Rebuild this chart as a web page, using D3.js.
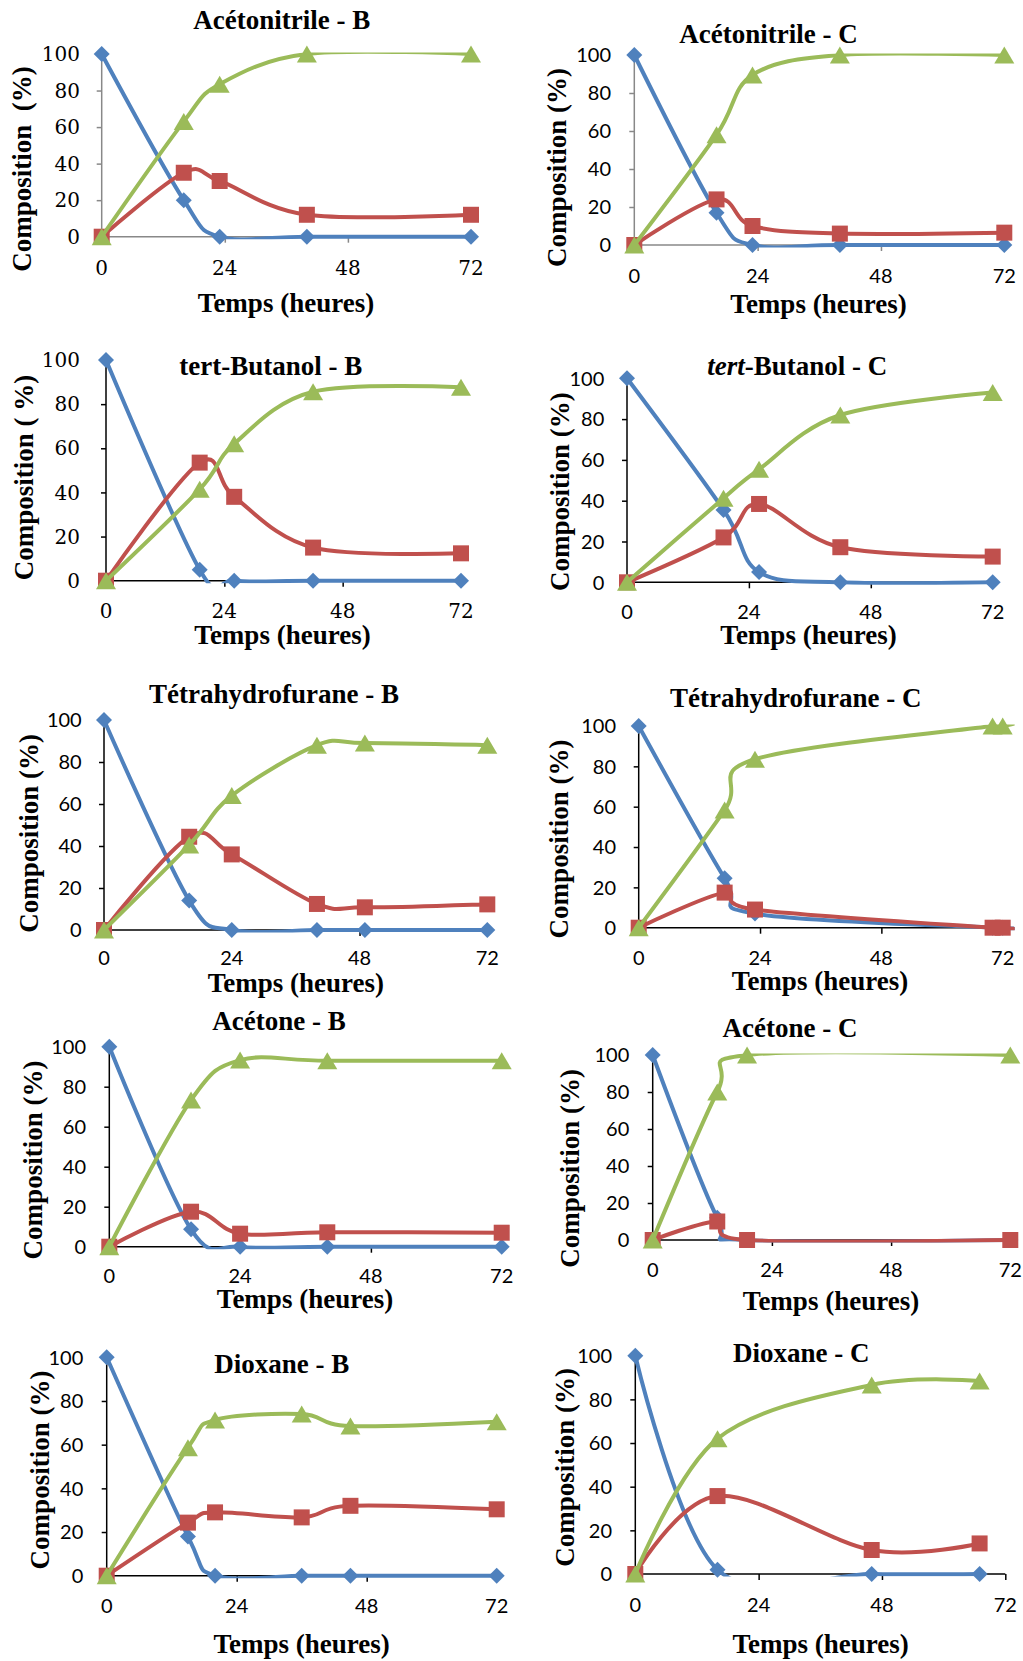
<!DOCTYPE html>
<html><head><meta charset="utf-8">
<script src="https://cdn.jsdelivr.net/npm/d3@7"></script>
<style>html,body{margin:0;padding:0;background:#fff;} svg{display:block;}</style>
</head><body>
<script>
// ---------- DATA ----------
const titles = ["Acétonitrile - B","Acétonitrile - C","tert-Butanol - B","tert-Butanol - C",
  "Tétrahydrofurane - B","Tétrahydrofurane - C","Acétone - B","Acétone - C","Dioxane - B","Dioxane - C"];
const yLabels = ["Composition  (%)","Composition (%)","Composition ( %)","Composition (%)","Composition (%)",
  "Composition (%)","Composition (%)","Composition (%)","Composition (%)","Composition (%)"];
const xLabel = "Temps (heures)";
const xTicks = [0,24,48,72];
const yTicks = [0,20,40,60,80,100];

const acnB_t = [0,16,23,40,72];
const acnB_blue = [100,20,0,0,0];
const acnB_red = [0,35,30.5,12,12];
const acnB_green = [0,63,83.5,100,100];

const acnC_t = [0,16,23,40,72];
const acnC_blue = [100,17,0,0,0];
const acnC_red = [0,24,10,6,6.5];
const acnC_green = [0,58,89.5,100,100];

const tbuB_t = [0,19,26,42,72];
const tbuB_blue = [100,5,0,0,0];
const tbuB_red = [0,53.5,38,15,12.4];
const tbuB_green = [0,41.4,62,85.6,87.6];

const tbuC_t = [0,19,26,42,72];
const tbuC_blue = [100,35.5,5,0,0];
const tbuC_red = [0,22,38.4,17.2,12.6];
const tbuC_green = [0,41.2,55.4,82,93];

const thfB_t = [0,16,24,40,49,72];
const thfB_blue = [100,14,0,0,0,0];
const thfB_red = [0,44.4,36,12.4,10.8,12.2];
const thfB_green = [0,40.5,64,88,89,88];

const thfC_t = [0,17,23,70,72];
const thfC_blue = [100,24.5,7,0,0];
const thfC_red = [0,17.4,9,0,0];
const thfC_green = [0,58.3,83.5,100,100];

const aceB_t = [0,15,24,40,72];
const aceB_blue = [100,8.7,0,0,0];
const aceB_red = [0,17.5,6.5,7.2,7];
const aceB_green = [0,73.3,93.3,93,93];

const aceC_t = [0,13,19,72];
const aceC_blue = [100,12,0,0];
const aceC_red = [0,10,0,0];
const aceC_green = [0,80,100,100];

const dioB_t = [0,15,20,36,45,72];
const dioB_blue = [100,18,0,0,0,0];
const dioB_red = [0,24.3,29,26.7,32,30.4];
const dioB_green = [0,58.6,71.3,74,68.5,70.5];

const dioC_t = [0,16,46,67];
const dioC_blue = [100,2,0,0];
const dioC_red = [0,35.7,11,14];
const dioC_green = [0,62,86.6,88.4];

const panelData = [
  [acnB_t, acnB_blue, acnB_red, acnB_green],
  [acnC_t, acnC_blue, acnC_red, acnC_green],
  [tbuB_t, tbuB_blue, tbuB_red, tbuB_green],
  [tbuC_t, tbuC_blue, tbuC_red, tbuC_green],
  [thfB_t, thfB_blue, thfB_red, thfB_green],
  [thfC_t, thfC_blue, thfC_red, thfC_green],
  [aceB_t, aceB_blue, aceB_red, aceB_green],
  [aceC_t, aceC_blue, aceC_red, aceC_green],
  [dioB_t, dioB_blue, dioB_red, dioB_green],
  [dioC_t, dioC_blue, dioC_red, dioC_green]
];

// ---------- LAYOUT / STYLE ----------
const colors = ["#4F81BD","#C0504D","#9BBB59"];
const layout = [
  {x0:101.7,x1:471,  y0:236.7, y1:54,    tx:281.7,ty:29.3,  tr:80,   xb:275,   lx:286,  lb:311.7, ly:169,   yb:30.7,  ax:"#888", serif:true},
  {x0:634.3,x1:1004.3,y0:245,  y1:55,    tx:768.5,ty:43.3,  tr:611,  xb:283.3, lx:818.5,lb:313.3, ly:167.5, yb:566,   ax:"#888", serif:false},
  {x0:106,  x1:461,  y0:580.7, y1:360,   tx:270.8,ty:375,   tr:80,   xb:617.5, lx:282.5,lb:644,   ly:477.5, yb:33.3,  ax:"#000", serif:true},
  {x0:627,  x1:992.7,y0:582.3, y1:378.3, tx:797.3,ty:375,   tr:604.3,xb:618.5, lx:808.5,lb:643.5, ly:491.7, yb:569.3, ax:"#000", serif:false},
  {x0:104,  x1:487.3,y0:930,   y1:720,   tx:274,  ty:702.7, tr:81.7, xb:965,   lx:295.8,lb:991.5, ly:833.3, yb:38.3,  ax:"#000", serif:false},
  {x0:638.7,x1:1002.7,y0:927.7,y1:726,   tx:795.7,ty:707.3, tr:616,  xb:965,   lx:820,  lb:990,   ly:839,   yb:567.7, ax:"#000", serif:false},
  {x0:109.3,x1:501.7,y0:1246.7,y1:1046.7,tx:279,  ty:1030,  tr:86,   xb:1283.3,lx:305,  lb:1308.3,ly:1160,  yb:41.7,  ax:"#000", serif:false},
  {x0:652.7,x1:1010.3,y0:1240, y1:1055,  tx:790,  ty:1037.3,tr:629.3,xb:1277.3,lx:831,  lb:1310,  ly:1168.3,yb:579.3, ax:"#000", serif:false},
  {x0:106.7,x1:496.7,y0:1575.7,y1:1357.3,tx:281.7,ty:1373.3,tr:83.3, xb:1612.7,lx:301.7,lb:1653.3,ly:1470,  yb:49.3,  ax:"#000", serif:false},
  {x0:635.3,x1:1005.3,y0:1574, y1:1355.7,tx:801.3,ty:1361.7,tr:612,  xb:1611.7,lx:820.7,lb:1653.3,ly:1467.3,yb:574.3, ax:"#000", serif:false}
];
const boldSerif = "'Liberation Serif', 'DejaVu Serif', serif";
const markerPaths = [
  "M0,-8L8,0L0,8L-8,0Z",
  "M-8,-8H8V8H-8Z",
  "M0,-8.5L10,8.5L-10,8.5Z"
];

// ---------- DRAW ----------
const svg = d3.select("body").append("svg").attr("width",1023).attr("height",1661)
  .style("background","#fff");

layout.forEach((L, i) => {
  const [t, ...series] = panelData[i];
  const x = d3.scaleLinear().domain([0,72]).range([L.x0, L.x1]);
  const y = d3.scaleLinear().domain([0,100]).range([L.y0, L.y1]);
  const g = svg.append("g");
  const tickFont = L.serif ? "'DejaVu Serif', serif" : "Lato, 'Open Sans', sans-serif";

  // axes
  const xAxis = d3.axisBottom(x).tickValues(xTicks).tickSize(6).tickFormat("");
  const yAxis = d3.axisLeft(y).tickValues(yTicks).tickSize(5).tickFormat("");
  const gx = g.append("g").attr("transform",`translate(0,${L.y0})`).call(xAxis);
  const gy = g.append("g").attr("transform",`translate(${L.x0},0)`).call(yAxis);
  [gx, gy].forEach(a => {
    a.select(".domain").attr("d", null);
    a.selectAll("line").attr("stroke", L.ax).attr("stroke-width", 1.5);
  });
  g.append("line").attr("x1",x(0)).attr("x2",x(72)).attr("y1",y(0)).attr("y2",y(0))
    .attr("stroke",L.ax).attr("stroke-width",1.5);
  g.append("line").attr("x1",x(0)).attr("x2",x(0)).attr("y1",y(0)).attr("y2",y(100))
    .attr("stroke",L.ax).attr("stroke-width",1.5);

  // tick labels
  g.selectAll(".yt").data(yTicks).enter().append("text")
    .attr("x", L.tr).attr("y", d => y(d)).attr("dy","0.36em")
    .attr("text-anchor","end").style("font-family",tickFont).style("font-size","20px")
    .attr("fill","#000").text(d => d);
  g.selectAll(".xt").data(xTicks).enter().append("text")
    .attr("x", d => x(d)).attr("y", L.xb)
    .attr("text-anchor","middle").style("font-family",tickFont).style("font-size","20px")
    .attr("fill","#000").text(d => d);

  // title
  const tt = g.append("text").attr("x",L.tx).attr("y",L.ty).attr("text-anchor","middle")
    .style("font-family",boldSerif).style("font-weight","bold").style("font-size","27px");
  if (i === 3) {
    tt.append("tspan").style("font-style","italic").text(titles[i].split("-")[0]);
    tt.append("tspan").text(titles[i].slice(4));
  } else {
    tt.text(titles[i]);
  }
  // axis titles
  g.append("text").attr("x",L.lx).attr("y",L.lb).attr("text-anchor","middle")
    .style("font-family",boldSerif).style("font-weight","bold").style("font-size","27px")
    .text(xLabel);
  g.append("text").attr("transform",`translate(${L.yb},${L.ly}) rotate(-90)`)
    .attr("text-anchor","middle").style("white-space","pre")
    .style("font-family",boldSerif).style("font-weight","bold").style("font-size","27px")
    .text(yLabels[i]);

  // clip (plot area, lines only)
  const cid = "clip"+i;
  svg.append("clipPath").attr("id",cid).append("rect")
    .attr("x", L.x0-12).attr("y", L.y1-1.5).attr("width", L.x1-L.x0+24).attr("height", L.y0-L.y1+4);

  const line = d3.line().x(d => x(d[0])).y(d => y(d[1])).curve(d3.curveCardinal.tension(0));
  series.forEach((vals, s) => {
    const pts = t.map((tv, k) => [tv, vals[k]]);
    g.append("path").datum(pts).attr("d", line).attr("fill","none")
      .attr("stroke", colors[s]).attr("stroke-width", 4).attr("stroke-linejoin","round")
      .attr("clip-path", `url(#${cid})`);
    g.selectAll(".m"+s).data(pts).enter().append("path")
      .attr("d", markerPaths[s]).attr("fill", colors[s])
      .attr("transform", d => `translate(${x(d[0])},${y(d[1])})`);
  });
});
</script>
</body></html>
